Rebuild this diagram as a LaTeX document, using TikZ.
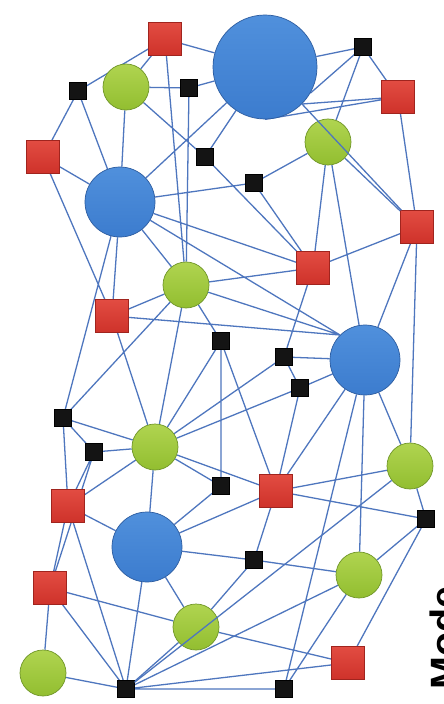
\documentclass[tikz,border=0pt]{standalone}
\usepackage{fontspec}
\setsansfont{Liberation Sans}
\usetikzlibrary{backgrounds}
\definecolor{bluefill}{RGB}{60,124,206}
\definecolor{bluetop}{RGB}{80,144,220}
\definecolor{bluerim}{RGB}{44,92,160}
\definecolor{greenfill}{RGB}{146,190,48}
\definecolor{greentop}{RGB}{176,212,80}
\definecolor{greenrim}{RGB}{112,150,40}
\definecolor{redfill}{RGB}{206,50,42}
\definecolor{redtop}{RGB}{226,76,66}
\definecolor{redrim}{RGB}{160,36,30}
\definecolor{edgecol}{RGB}{78,118,190}
\tikzset{
  bigblue/.style={circle, draw=bluerim, line width=0.6pt, top color=bluetop, bottom color=bluefill, minimum size=3.12cm, inner sep=0pt},
  midblue/.style={circle, draw=bluerim, line width=0.6pt, top color=bluetop, bottom color=bluefill, minimum size=2.1cm, inner sep=0pt},
  greennode/.style={circle, draw=greenrim, line width=0.6pt, top color=greentop, bottom color=greenfill, minimum size=1.38cm, inner sep=0pt},
  rednode/.style={rectangle, draw=redrim, line width=0.5pt, top color=redtop, bottom color=redfill, minimum size=0.99cm, inner sep=0pt},
  blacknode/.style={rectangle, draw=black, fill=black!92, minimum size=0.5cm, inner sep=0pt},
  link/.style={draw=edgecol, line width=1.1pt},
  labeltext/.style={rotate=90, anchor=base west, inner sep=0pt, font=\sffamily\bfseries\fontsize{33.7}{40}\selectfont}
}
\begin{document}
\begin{tikzpicture}[x=0.03cm, y=-0.03cm]
\useasboundingbox (0,0) rectangle (443,704);
% nodes
\node[rednode]   (R1)  at (165,39)  {};
\node[bigblue]   (B1)  at (265,67)  {};
\node[blacknode] (K1)  at (363,47)  {};
\node[rednode]   (R2)  at (398,97)  {};
\node[greennode] (G1)  at (126,87)  {};
\node[blacknode] (K2)  at (78,91)   {};
\node[blacknode] (K3)  at (189,88)  {};
\node[rednode]   (R3)  at (43,157)  {};
\node[greennode] (G2)  at (328,142) {};
\node[blacknode] (K4)  at (205,157) {};
\node[blacknode] (K5)  at (254,183) {};
\node[midblue]   (B2)  at (120,202) {};
\node[rednode]   (R4)  at (417,227) {};
\node[greennode] (G3)  at (186,285) {};
\node[rednode]   (R5)  at (313,268) {};
\node[rednode]   (R6)  at (112,316) {};
\node[blacknode] (K6)  at (221,341) {};
\node[midblue]   (B3)  at (365,360) {};
\node[blacknode] (K7)  at (284,357) {};
\node[blacknode] (K8)  at (300,388) {};
\node[blacknode] (K9)  at (63,418)  {};
\node[blacknode] (K10) at (94,452)  {};
\node[greennode] (G4)  at (155,447) {};
\node[greennode] (G5)  at (410,466) {};
\node[blacknode] (K11) at (221,486) {};
\node[rednode]   (R7)  at (276,491) {};
\node[rednode]   (R8)  at (68,506)  {};
\node[blacknode] (K12) at (426,519) {};
\node[midblue]   (B4)  at (147,547) {};
\node[blacknode] (K13) at (254,560) {};
\node[greennode] (G6)  at (359,575) {};
\node[rednode]   (R9)  at (50,588)  {};
\node[greennode] (G7)  at (196,627) {};
\node[greennode] (G8)  at (43,673)  {};
\node[blacknode] (K14) at (126,689) {};
\node[blacknode] (K15) at (284,689) {};
\node[rednode]   (R10) at (348,663) {};
\node[labeltext] (T) at (458,690) {Mode};
% edges behind nodes
\begin{pgfonlayer}{background}
\fill[white] (0,0) rectangle (443,704);
\path[link]
  (R1) -- (B1)  (K2) -- (R1)  (G1) -- (R1)  (G1) -- (K3)  (K3) -- (B1)
  (R1) -- (G3)  (K3) -- (G3)  (K2) -- (R3)  (K2) -- (B2)  (G1) -- (B2)
  (G1) -- (K4)  (K4) -- (R5)  (K4) -- (B1)  (B2) -- (B1)  (B2) -- (K5)
  (R3) -- (B2)  (R3) -- (R6)  (B2) -- (R6)  (B2) -- (K9)  (B2) -- (G3)
  (B2) -- (R5)  (B2) -- (B3.north west)
  (K1) -- (B1)  (K1) -- (B1.-30)  (K1) -- (G2)  (K1) -- (R2)
  (R2) -- (B1.south east)  (R2) -- (B1.south)
  (G2) -- (R4)  (R2) -- (R4)  (K5) -- (R5)  (K5) -- (G2)  (G2) -- (R5)
  (G2) -- (B3)  (R5) -- (R4)  (R4) -- (B3)  (R4) -- (G5)
  (G3) -- (B3.north west)  (R6) -- (B3.north west)
  (K7) -- (B3)  (K8) -- (B3)  (R7) -- (B3)  (B3) -- (G6)  (B3) -- (K15)  (B3) -- (G5)
  (R5) -- (K7)  (R5) -- (G3)
  (K7) -- (G4)  (K7) -- (K8)  (K8) -- (G4)  (K8) -- (R7)
  (G3) -- (K6)  (K6) -- (K11)  (K6) -- (R7)  (K6) -- (G4)
  (G4) -- (R7)  (R7) -- (G5)  (G5) -- (K12)  (R7) -- (K12)  (R7) -- (K13)  (R7) -- (B4)
  (K11) -- (G4)  (K11) -- (B4)  (K13) -- (B4)  (K13) -- (G6)  (K13) -- (G7)
  (G6) -- (K12)  (G6) -- (K15)  (K14) -- (G6)
  (K14) -- (G8)  (K14) -- (R9)  (K14) -- (R8)  (K14) -- (B4)  (K14) -- (G7)
  (K14) -- (R10)  (K14) -- (K15)
  (B4) -- (G7)  (R9) -- (G7)  (G7) -- (R10)
  (R9) -- (R8)  (R9) -- (K10)  (G8) -- (R9)
  (R8) -- (K9)  (R8) -- (K10)  (R8) -- (G4)  (R8) -- (B4)
  (K9) -- (G3)  (K9) -- (G4)  (K9) -- (K10)  (K10) -- (G4)
  (G4) -- (R6)  (G3) -- (G4)  (G4) -- (B4)  (G3) -- (R6)
  (K12) -- (R10);
\end{pgfonlayer}
% edges drawn over nodes
\path[link] (B1.south east) -- (R4);
\path[link] (K14) -- (G5);
\end{tikzpicture}
\end{document}
